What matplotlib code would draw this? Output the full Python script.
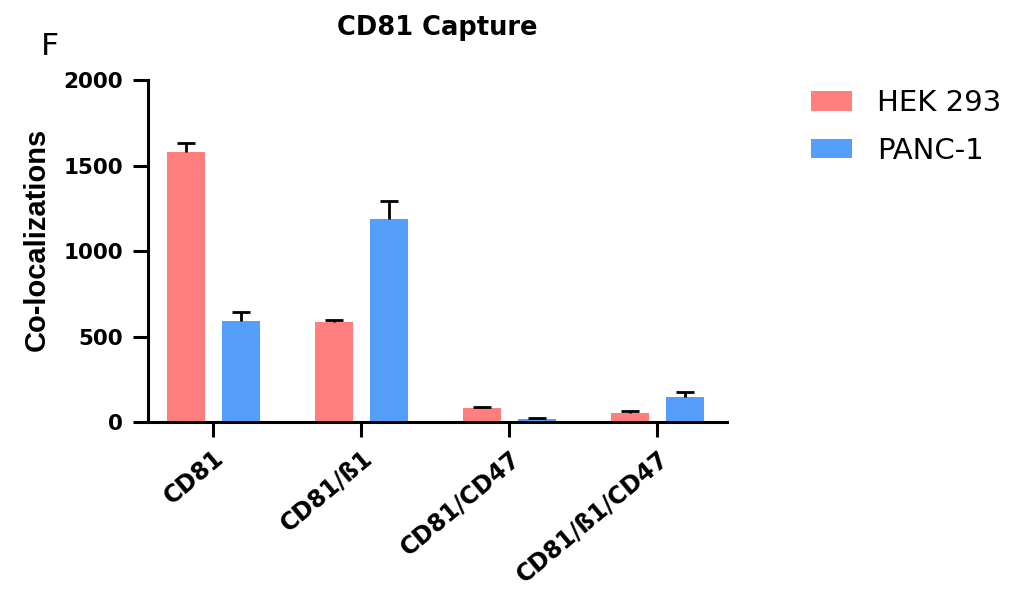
import matplotlib
matplotlib.use("Agg")
import matplotlib.pyplot as plt
import numpy as np

categories = ["CD81", "CD81/ß1", "CD81/CD47", "CD81/ß1/CD47"]
series_names = ["HEK 293", "PANC-1"]
hek_values = [1581, 587, 84, 56]
hek_errors = [50, 12, 3, 9]
panc_values = [592, 1186, 20, 148]
panc_errors = [51, 106, 7, 29]
colors = ["#FF7F7F", "#559FFB"]

plt.rcParams["font.family"] = ["DejaVu Sans"]

fig = plt.figure(figsize=(10.28, 5.92), dpi=100)
ax = fig.add_axes([0.144, 0.2865, 0.563, 0.5785])

x = np.arange(len(categories))
width = 0.257
offset = 0.186

for vals, errs, col, name, sgn in [
    (hek_values, hek_errors, colors[0], series_names[0], -1),
    (panc_values, panc_errors, colors[1], series_names[1], 1),
]:
    ax.bar(x + sgn * offset, vals, width, color=col, label=name, zorder=2)
    _, caps, _ = ax.errorbar(x + sgn * offset, vals,
                             yerr=[np.zeros(len(errs)), errs],
                             fmt="none", ecolor="black", elinewidth=2.0,
                             capsize=6.8, capthick=2.0, zorder=3)
    # upper caps only
    caps[0].set_visible(False)

ax.set_xlim(-0.44, 3.47)
ax.set_ylim(0, 2000)
ax.set_yticks([0, 500, 1000, 1500, 2000])
ax.set_xticks(x)
ax.set_xticklabels(categories, rotation=40, ha="right", rotation_mode="anchor",
                   fontsize=17, fontweight="bold")
for lbl in ax.get_yticklabels():
    lbl.set_fontsize(15.5)
    lbl.set_fontweight("bold")

for s in ["top", "right"]:
    ax.spines[s].set_visible(False)
for s in ["left", "bottom"]:
    ax.spines[s].set_linewidth(2.2)
ax.tick_params(axis="both", width=2.2, length=11)
ax.tick_params(axis="y", pad=7)
ax.tick_params(axis="x", pad=6)

ax.set_ylabel("Co-localizations", fontsize=21, fontweight="bold",
              family="Liberation Sans", va="center")
ax.yaxis.set_label_coords(-0.193, 0.534)
ax.set_title("CD81 Capture", fontsize=18.5, fontweight="bold", pad=32.5)

fig.text(0.040, 0.907, "F", fontsize=22.5, ha="left", va="baseline")

leg = fig.legend(loc="upper left", bbox_to_anchor=(811 / 1028, 1 - 89 / 592),
                 frameon=False, fontsize=21, handlelength=1.41,
                 handleheight=0.66, handletextpad=0.85, labelspacing=0.68,
                 borderpad=0, borderaxespad=0)

fig.savefig("out.png", dpi=100)
